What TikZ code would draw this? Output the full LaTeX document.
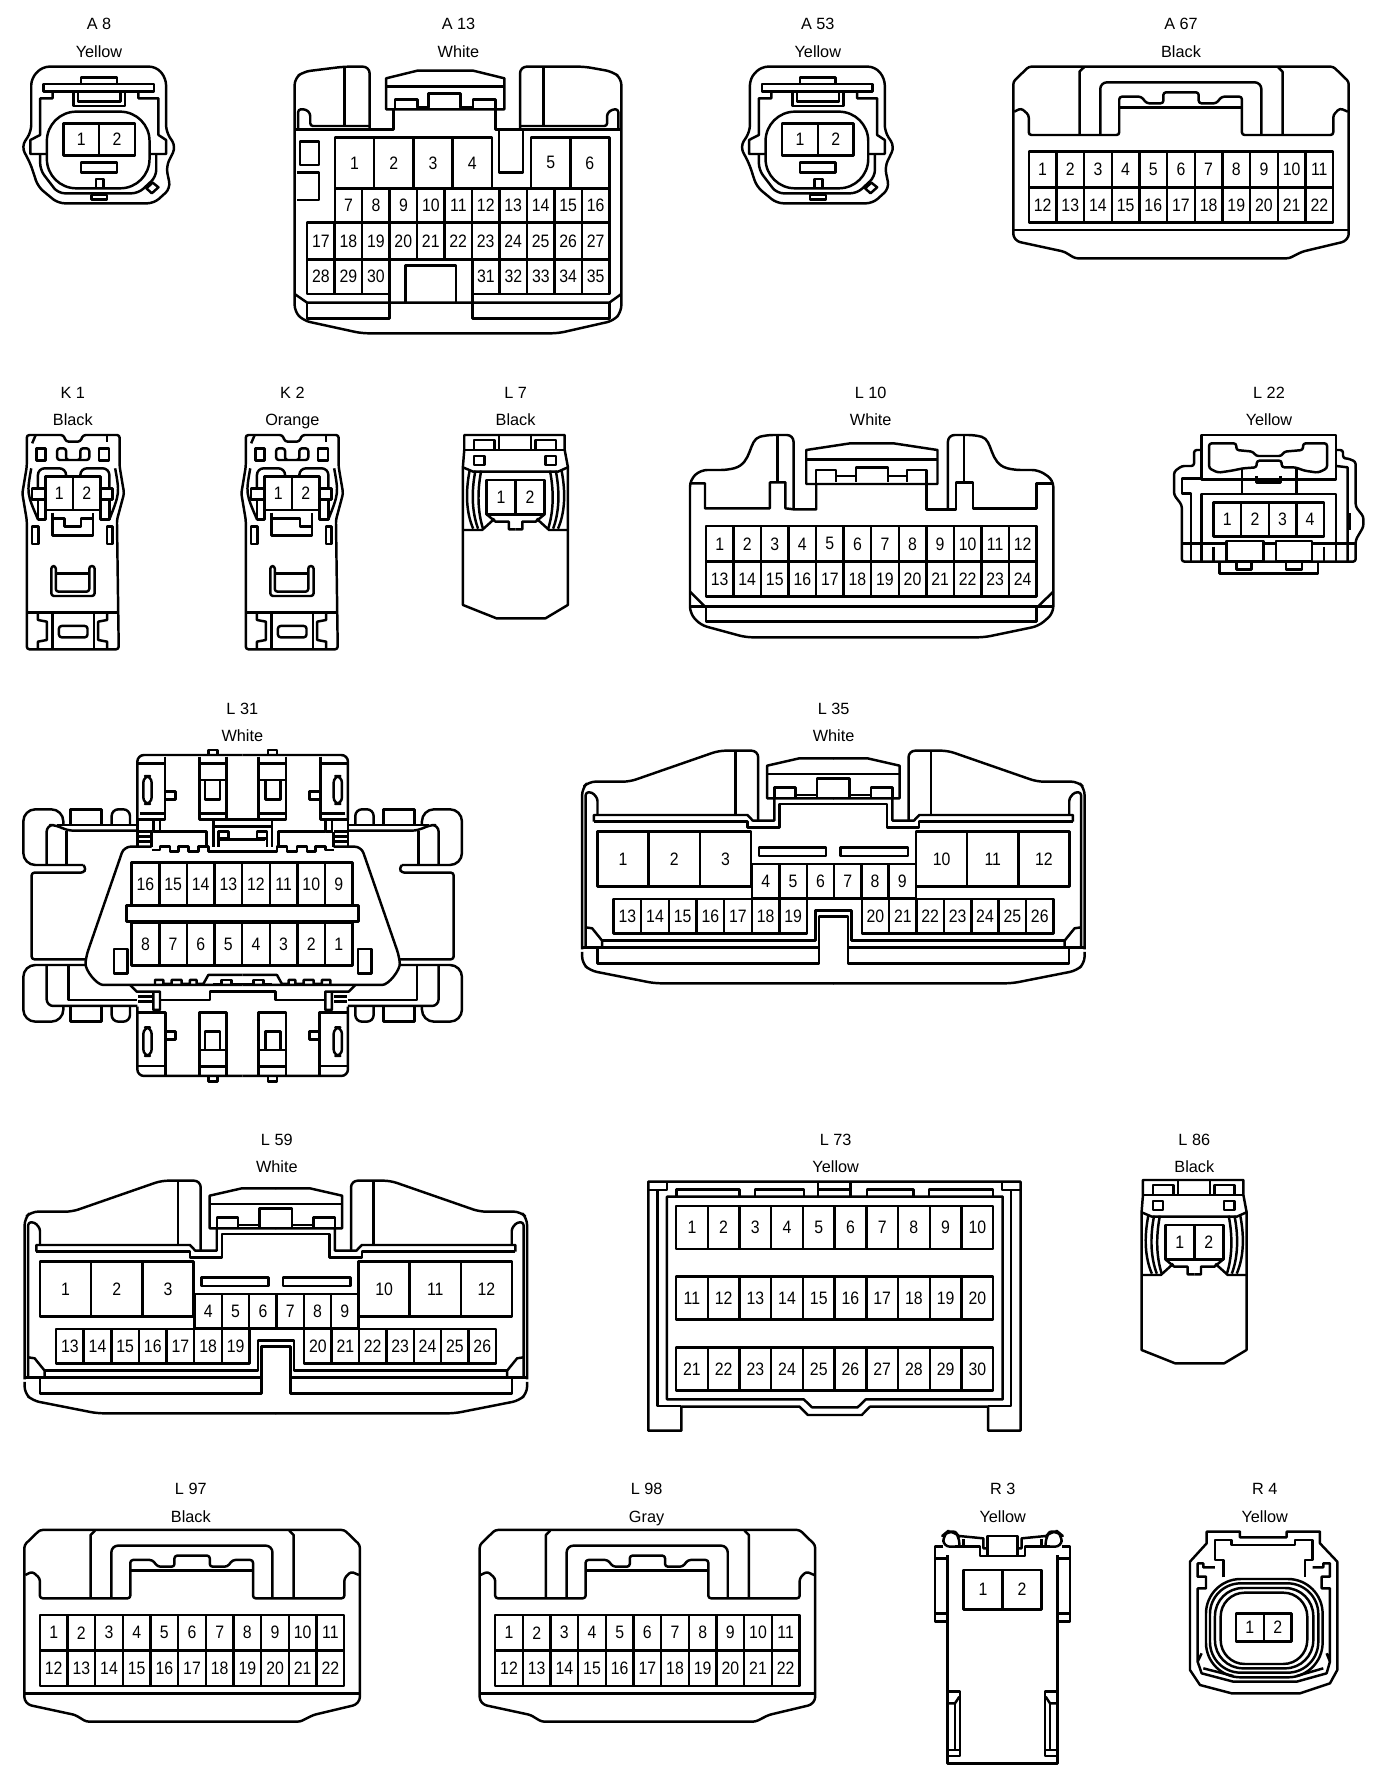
\documentclass[tikz,border=0pt]{standalone}
\usepackage{fontspec}
\setmainfont{Liberation Sans}
\newfontfamily\pinfont[FakeStretch=0.88]{Liberation Sans}
\usepackage{tikz}
\usetikzlibrary{positioning}
\tikzstyle{body} = [draw=black, line width=1.85pt, line join=round]
\tikzstyle{tag} = [font=\fontsize{12.2}{14}\selectfont, inner sep=0pt, text height=8.8pt, text depth=0pt]
\tikzstyle{pinno} = [font=\pinfont\fontsize{13.5}{15}\selectfont, inner sep=0pt]
\tikzstyle{round1} = [body, rounded corners=2pt]
\tikzstyle{round2} = [body, rounded corners=5pt]

% one row of pin cavities: [step] first count x y w h
\newcommand{\pinrow}[6][1]{
	\pgfmathtruncatemacro\lastpin{#3-1}
	\foreach \i in {0,...,\lastpin} {
		\pgfmathtruncatemacro\pinval{#2+#1*\i}
		\draw [body] ({#4+\i*#5},#6) rectangle ++(#5,\pinh);
		\node (p\pinval) [pinno] at ({#4+(\i+0.5)*#5},{#6+\pinh/2}) {\pinval};
	}
}
\newcommand{\pinh}{100}
\newcommand{\pins}[7][1]{\renewcommand{\pinh}{#7}\pinrow[#1]{#2}{#3}{#4}{#6}{#5}}

% round two pin plug
\newcommand{\plugroundtwo}[2]{
	\begin{scope}[shift={(#1,#2)},xscale=0.4464,yscale=0.3333]
		\draw [round2] (95,200) -- (350,200) -- (372,235) -- (372,395) -- (394,440) -- (372,500) -- (382,565) -- (345,610) -- (130,610) -- (85,560) -- (68,490) -- (48,440) -- (70,395) -- (70,235) -- cycle;
		\draw [body] (97,252) rectangle (345,275);
		\draw [body] (182,252) -- (182,232) -- (262,232) -- (262,252);
		\draw [body] (165,275) -- (165,318) -- (280,318) -- (280,275);
		\draw [body] (175,275) -- (175,305) -- (270,305) -- (270,275);
		\draw [body] (118,275) -- (118,295) -- (90,295) -- (90,405) -- (68,420) -- (68,462) -- (105,462);
		\draw [body] (310,275) -- (310,295) -- (355,295) -- (355,405) -- (372,420) -- (372,462) -- (335,462);
		\draw [body, rounded corners=22pt] (105,335) rectangle (335,565);
		\draw [round2] (90,462) -- (90,510) -- (130,580) -- (310,580) -- (350,530) -- (350,462);
		\pins{1}{2}{142}{370}{80}{96}
		\draw [body] (182,487) rectangle (262,518);
		\draw [body] (215,565) -- (215,537) -- (232,537) -- (232,565);
		\draw [body] (205,585) rectangle (240,598);
		\draw [body] (328,565) -- (342,548) -- (355,562) -- (340,580) -- cycle;
	\end{scope}
}

% wide 22 pin plug
\newcommand{\plugwide}[2]{
	\begin{scope}[shift={(#1,#2)},xscale=0.4413,yscale=0.3333]
		\draw [round1] (745,200) -- (1435,200) -- (1470,245) -- (1470,710) -- (1460,725) -- (1365,755) -- (1335,775) -- (850,775) -- (825,755) -- (720,725) -- (710,710) -- (710,245) -- cycle;
		\draw [round1] (712,335) -- (728,325) -- (745,345) -- (745,405) -- (950,405) -- (950,290) -- (1000,290) -- (1012,310) -- (1050,310) -- (1050,277) -- (1130,277) -- (1130,310) -- (1170,310) -- (1182,290) -- (1228,290) -- (1228,405) -- (1435,405) -- (1435,345) -- (1450,325) -- (1468,335);
		\draw [body] (950,322) -- (1228,322);
		\draw [body] (860,405) -- (860,215) -- (870,202);
		\draw [body] (1320,405) -- (1320,215) -- (1310,202);
		\draw [round2] (907,405) -- (907,247) -- (1272,247) -- (1272,405);
		\pins{1}{11}{745}{455}{62.7}{107}
		\pins{12}{11}{745}{562}{62.7}{106}
		\draw [body] (710,690) -- (1470,690);
	\end{scope}
}

% narrow latch plug, last argument is the notch line
\newcommand{\pluglatch}[3]{
	\begin{scope}[shift={(#1,#2)},xscale=0.4464,yscale=0.3333]
		\draw [round1] (60,165) -- (142,165) -- (148,185) -- (180,185) -- (186,165) -- (268,165) -- (268,260) -- (278,340) -- (262,420) -- (266,808) -- (60,808) -- (60,420) -- (50,340) -- (60,260) -- cycle;
		\draw [body] (80,165) -- (72,190);
		\draw [body] (240,165) -- (240,185);
		\draw [body] (82,205) rectangle (102,242);
		\draw [body] (222,205) rectangle (244,242);
		\draw [round1] (128,240) -- (128,205) -- (148,205) -- (148,240) -- (180,240) -- (180,205) -- (200,205) -- (200,240) -- cycle;
		\draw [round2] (85,325) -- (85,265) -- (148,265) -- (148,290);
		\draw [round2] (245,325) -- (245,265) -- (180,265) -- (180,290);
		\draw [body] (70,265) .. controls (60,340) .. (85,418);
		\draw [body] (258,265) .. controls (268,340) .. (245,418);
		\draw [body] (85,358) -- (85,418) -- (102,418) -- (102,390);
		\draw [body] (245,358) -- (245,418) -- (225,418) -- (225,390);
		\pins{1}{2}{102}{290}{61.5}{100}
		\draw [body] (72,325) rectangle (102,358);
		\draw [body] (225,325) rectangle (252,358);
		\draw [body] (118,398) -- (118,466) -- (208,466) -- (208,398);
		\draw [body] #3;
		\draw [body] (72,440) rectangle (86,492);
		\draw [body] (240,440) rectangle (252,492);
		\draw [round1] (115,558) -- (115,648) -- (212,648) -- (212,558) -- (200,558) -- (200,635) -- (125,635) -- (125,558) -- cycle;
		\draw [body] (125,580) -- (200,580);
		\draw [body] (60,698) -- (266,698);
		\draw [body] (118,698) -- (118,808);
		\draw [body] (210,698) -- (210,808);
		\draw [round1] (132,738) rectangle (196,772);
		\draw [body] (85,702) -- (85,720) -- (105,725) -- (105,780) -- (85,785) -- (85,808);
		\draw [body] (240,702) -- (240,720) -- (220,725) -- (220,780) -- (240,785) -- (240,808);
	\end{scope}
}

% short plug with curved side fingers
\newcommand{\plugfinger}[2]{
	\begin{scope}[shift={(#1,#2)},xscale=0.4464,yscale=0.3333]
		\draw [body] (1040,165) -- (1265,165) -- (1265,210) -- (1272,260) -- (1272,675) -- (1222,715) -- (1112,715) -- (1037,675) -- (1037,260) -- (1040,210) -- cycle;
		\draw [body] (1040,210) -- (1265,210);
		\draw [body] (1062,210) -- (1062,180) -- (1108,180) -- (1108,210);
		\draw [body] (1118,210) -- (1118,165);
		\draw [body] (1190,210) -- (1190,165);
		\draw [body] (1200,210) -- (1200,180) -- (1245,180) -- (1245,210);
		\draw [body] (1062,228) rectangle (1085,255);
		\draw [body] (1222,228) rectangle (1245,255);
		\draw [body] (1037,262) -- (1060,275) -- (1250,275) -- (1272,262);
		\foreach \m in {1,-1} {
			\begin{scope}[shift={({1155*(1-\m)},0)},xscale=\m]
				\foreach \k in {0,1,2} {
					\draw [body] ({1052+\k*13},272) .. controls ({1042+\k*13},340) and ({1045+\k*13},400) .. ({1060+\k*11},446);
				}
				\draw [body] (1037,450) -- (1080,450) -- (1108,416);
				\draw [body] (1090,403) -- (1110,425) -- (1140,425) -- (1140,448) -- (1155,448);
			\end{scope}
		}
		\pins{1}{2}{1090}{300}{65}{103}
	\end{scope}
}

% big plug with three large cavities each side
\newcommand{\plugbig}[2]{
	\begin{scope}[shift={(#1,#2)},xscale=0.3571,yscale=0.3333]
		\foreach \m in {1,-1} {
			\begin{scope}[shift={({765.5*(1-\m)},0)},xscale=\m]
				\draw [round2] (62,748) -- (62,265) -- (80,245) -- (195,245) -- (445,152) -- (555,152) -- (555,362);
				\draw [body] (492,152) -- (492,345);
				\draw [body] (95,365) -- (95,345) -- (525,345) -- (540,362) -- (600,362) -- (600,295);
				\draw [body] (95,365) -- (525,365) -- (525,382) -- (615,382) -- (615,312) -- (766,312);
				\draw [round1] (105,345) -- (105,295) -- (90,277) -- (72,277) -- (72,742);
				\draw [body] (766,175) -- (670,175) -- (580,197) -- (580,295) -- (766,295);
				\draw [body] (580,222) -- (766,222);
				\draw [body] (600,295) -- (600,262) -- (660,262) -- (660,295);
				\draw [body] (660,285) -- (720,285);
				\draw [body] (720,295) -- (720,235) -- (766,235);
				\draw [body] (557,442) rectangle (745,468);
				\draw [body] (72,682) -- (90,685) -- (118,722) -- (118,742);
				\draw [body] (118,722) -- (715,722) -- (715,632) -- (766,632);
				\draw [body] (62,742) -- (725,742);
				\draw [body] (105,742) -- (105,790) -- (725,790) -- (725,650) -- (766,650);
				\draw [round2] (62,756) -- (62,790) -- (85,812) -- (265,850) -- (766,850);
			\end{scope}
		}
		\pins{1}{3}{105}{395}{143.3}{165}
		\pins{10}{3}{997}{395}{143.3}{165}
		\pins{4}{6}{538}{492}{76.5}{103}
		\pins{13}{7}{150}{597}{77.4}{103}
		\pins{20}{7}{845}{597}{76.7}{103}
	\end{scope}
}

\begin{document}
\begin{tikzpicture}[x=0.75pt,y=-0.75pt,node distance=20.4pt]
	\useasboundingbox (0,0) rectangle (1392,1784);

	\node (a8) [tag] at (99,24) {A 8};
	\node (a8col) [tag, below of=a8] {Yellow};
	\node (a13) [tag] at (458.5,24) {A 13};
	\node (a13col) [tag, below of=a13] {White};
	\node (a53) [tag] at (817.8,24) {A 53};
	\node (a53col) [tag, below of=a53] {Yellow};
	\node (a67) [tag] at (1181,24) {A 67};
	\node (a67col) [tag, below of=a67] {Black};
	\node (k1) [tag] at (72.8,392.7) {K 1};
	\node (k1col) [tag, below of=k1] {Black};
	\node (k2) [tag] at (292.4,392.7) {K 2};
	\node (k2col) [tag, below of=k2] {Orange};
	\node (l7) [tag] at (515.6,392.7) {L 7};
	\node (l7col) [tag, below of=l7] {Black};
	\node (l10) [tag] at (870.7,392.7) {L 10};
	\node (l10col) [tag, below of=l10] {White};
	\node (l22) [tag] at (1269,392.7) {L 22};
	\node (l22col) [tag, below of=l22] {Yellow};
	\node (l31) [tag] at (242.3,708.3) {L 31};
	\node (l31col) [tag, below of=l31] {White};
	\node (l35) [tag] at (833.6,708.3) {L 35};
	\node (l35col) [tag, below of=l35] {White};
	\node (l59) [tag] at (276.8,1139.3) {L 59};
	\node (l59col) [tag, below of=l59] {White};
	\node (l73) [tag] at (835.7,1139.3) {L 73};
	\node (l73col) [tag, below of=l73] {Yellow};
	\node (l86) [tag] at (1194.3,1139.3) {L 86};
	\node (l86col) [tag, below of=l86] {Black};
	\node (l97) [tag] at (190.8,1489) {L 97};
	\node (l97col) [tag, below of=l97] {Black};
	\node (l98) [tag] at (646.6,1489) {L 98};
	\node (l98col) [tag, below of=l98] {Gray};
	\node (r3) [tag] at (1002.7,1489) {R 3};
	\node (r3col) [tag, below of=r3] {Yellow};
	\node (r4) [tag] at (1264.7,1489) {R 4};
	\node (r4col) [tag, below of=r4] {Yellow};

	\plugroundtwo{0}{0}
	\plugroundtwo{718.7}{0}
	\plugwide{700}{0}
	\plugwide{-288.9}{1463.3}
	\plugwide{166.4}{1463.3}
	\pluglatch{0}{380}{(118,415) -- (145,415) -- (145,440) -- (182,440) -- (182,415) -- (208,415)}
	\pluglatch{219}{380}{(118,415) -- (182,415) -- (182,440) -- (208,440)}
	\plugfinger{0}{380}
	\plugfinger{678.7}{1125}
	\plugbig{560}{700}
	\plugbig{2.5}{1130}

	% A 13
	\begin{scope}[xscale=0.4464,yscale=0.3333]
		\draw [round2] (828,385) -- (828,200) -- (770,200) -- (680,215) -- (660,235) -- (660,935) -- (680,962) -- (810,1000) -- (1250,1000) -- (1375,962) -- (1392,935) -- (1392,235) -- (1372,215) -- (1310,200) -- (1165,200) -- (1165,385);
		\draw [body] (772,200) -- (772,378);
		\draw [body] (1218,200) -- (1218,378);
		\draw [round1] (668,388) -- (668,328) -- (685,328) -- (695,340) -- (695,378) -- (828,378);
		\draw [round1] (1385,388) -- (1385,328) -- (1372,328) -- (1360,340) -- (1360,378) -- (1165,378);
		\draw [body] (660,388) -- (882,388) -- (882,328);
		\draw [body] (1392,388) -- (1110,388) -- (1110,328);
		\draw [body] (865,328) -- (865,235) -- (935,212) -- (1060,212) -- (1130,235) -- (1130,328) -- cycle;
		\draw [body] (865,260) -- (1130,260);
		\draw [body] (885,328) -- (885,298) -- (935,298) -- (935,322) -- (960,322) -- (960,280) -- (1032,280) -- (1032,322) -- (1060,322) -- (1060,298) -- (1110,298) -- (1110,328);
		\draw [body] (1118,388) -- (1118,518) -- (1172,518) -- (1172,388);
		\draw [body] (672,425) rectangle (715,495);
		\draw [body] (665,518) -- (715,518) -- (715,600) -- (665,600);
		\pins{1}{4}{750}{412}{88}{153}
		\pins{5}{2}{1190}{412}{87.5}{153}
		\pins{7}{10}{750}{565}{61.5}{103}
		\pins{17}{11}{688}{668}{61.55}{110}
		\pins{28}{3}{688}{778}{61.55}{104}
		\pins{31}{5}{1058}{778}{61.4}{104}
		\draw [body] (660,882) -- (688,908) -- (1365,908) -- (1392,882);
		\draw [body] (688,908) -- (688,955) -- (873,955) -- (873,882);
		\draw [body] (1058,882) -- (1058,955) -- (1365,955) -- (1365,908);
		\draw [body] (908,908) -- (908,797) -- (1022,797) -- (1022,908);
	\end{scope}

	% L 10
	\begin{scope}[shift={(680,380)},xscale=0.4541,yscale=0.3333]
		\draw [round2] (250,388) -- (250,165) -- (190,165) .. controls (150,180) and (160,250) .. (105,270) -- (45,270) -- (22,300) -- (22,700) -- (45,735) -- (145,772) -- (670,772) -- (790,738) -- (822,700) -- (822,300) -- (790,270) -- (735,270) .. controls (680,250) and (690,180) .. (650,165) -- (590,165) -- (590,388);
		\draw [body] (215,165) -- (215,307);
		\draw [body] (625,165) -- (625,307);
		\draw [body] (22,310) -- (55,310) -- (55,385) -- (198,385) -- (198,307) -- (232,307) -- (232,385) -- (250,388) -- (300,388) -- (300,310);
		\draw [body] (822,310) -- (785,310) -- (785,385) -- (645,385) -- (645,307) -- (608,307) -- (608,388) -- (543,388) -- (543,310);
		\draw [body] (278,312) -- (278,210) -- (375,190) -- (470,190) -- (567,210) -- (567,312) -- cycle;
		\draw [body] (278,238) -- (567,238);
		\draw [body] (300,310) -- (300,270) -- (343,270) -- (343,305);
		\draw [body] (387,305) -- (387,262) -- (458,262) -- (458,305);
		\draw [body] (500,305) -- (500,270) -- (543,270) -- (543,310);
		\draw [body] (343,288) -- (387,288);
		\draw [body] (458,288) -- (500,288);
		\pins{1}{12}{57}{438}{60.67}{107}
		\pins{13}{12}{57}{545}{60.67}{105}
		\draw [body] (22,680) -- (822,680);
		\draw [body] (57,680) -- (57,725) -- (785,725) -- (785,680);
		\draw [body] (22,635) -- (55,680);
		\draw [body] (822,635) -- (788,680);
	\end{scope}

	% L 22
	\begin{scope}[shift={(680,380)},xscale=0.4541,yscale=0.3333]
		\draw [body] (1148,165) rectangle (1445,298);
		\draw [round1] (1165,190) -- (1225,190) -- (1225,210) -- (1262,215) -- (1268,228) -- (1325,228) -- (1330,215) -- (1372,210) -- (1372,190) -- (1425,190) -- (1425,265) -- (1405,278) -- (1375,272) -- (1355,262) -- (1325,262) -- (1325,242) -- (1270,242) -- (1270,262) -- (1240,265) -- (1215,272) -- (1185,278) -- (1165,265) -- cycle;
		\draw [body] (1238,265) -- (1238,342);
		\draw [body] (1358,265) -- (1358,342);
		\draw [body] (1270,288) -- (1270,308) -- (1322,308) -- (1322,288);
		\draw [body] (1148,545) -- (1148,342) -- (1445,342) -- (1445,545);
		\draw [round1] (1148,210) -- (1132,210) -- (1132,258) -- (1105,258) -- (1088,275) -- (1088,345) -- (1105,375) -- (1105,545) -- (1488,545) -- (1488,480) -- (1505,440) -- (1505,410) -- (1488,380) -- (1488,245) -- (1470,235) -- (1460,235) -- (1460,210) -- (1445,210);
		\draw [body] (1148,295) -- (1105,295) -- (1105,340) -- (1125,340) -- (1125,545);
		\draw [body] (1445,258) -- (1470,262) -- (1470,545);
		\draw [body] (1475,400) -- (1475,450);
		\pins{1}{4}{1175}{368}{60.75}{102}
		\draw [body] (1105,490) -- (1203,490);
		\draw [body] (1285,490) -- (1312,490);
		\draw [body] (1392,490) -- (1488,490);
		\draw [body] (1203,483) rectangle (1285,545);
		\draw [body] (1312,483) rectangle (1392,545);
		\draw [body] (1175,500) -- (1175,545);
		\draw [body] (1418,500) -- (1418,545);
		\draw [body] (1188,545) -- (1188,580) -- (1405,580) -- (1405,545);
		\draw [body] (1225,548) -- (1225,568) -- (1258,568) -- (1258,548);
		\draw [body] (1335,548) -- (1335,568) -- (1370,568) -- (1370,548);
	\end{scope}

	% L 31
	\begin{scope}[shift={(0,700)},xscale=0.3333,yscale=0.3333]
		\foreach \m in {1,-1} {
			\begin{scope}[shift={({728*(1-\m)},0)},xscale=\m]
				% upper block
				\draw [round2] (412,360) -- (412,165) -- (728,165);
				\draw [body] (625,165) -- (625,150) -- (652,150) -- (652,165);
				\draw [body] (412,190) -- (495,190);
				\draw [body] (495,170) -- (495,358) -- (412,358);
				\draw [body] (420,340) -- (495,340);
				\draw [round2] (430,228) rectangle (455,312);
				\draw [body] (495,275) -- (527,275) -- (527,298) -- (495,298);
				\draw [body] (598,170) -- (598,358) -- (728,358);
				\draw [body] (680,170) -- (680,358);
				\draw [body] (598,190) -- (680,190);
				\draw [body] (598,240) -- (680,240);
				\draw [body] (598,340) -- (680,340);
				\draw [body] (615,240) -- (615,298) -- (660,298) -- (660,240);
				\draw [body] (640,358) -- (640,440);
				\draw [body] (640,380) -- (728,380);
				\draw [body] (460,358) -- (460,395) -- (480,395) -- (480,358);
				\draw [body] (480,395) -- (620,395) -- (620,440);
				\draw [body] (655,440) -- (655,395) -- (685,395) -- (685,415) -- (655,415);
				\draw [body] (660,418) -- (728,418);
				\draw [body] (455,395) -- (455,440);
				\draw [body] (415,395) -- (455,395);
				\draw [body] (415,410) -- (455,410);
				\draw [body] (415,425) -- (455,425);
				\draw [body] (412,360) -- (412,438);
				\draw [body] (455,450) -- (480,450) -- (480,440) -- (510,440) -- (510,455) -- (535,455) -- (535,440) -- (565,440) -- (565,455) -- (595,455) -- (595,440) -- (625,440) -- (625,455) -- (655,455) -- (728,455);
				% main shell
				\draw [round2] (455,440) -- (372,440) -- (258,770) .. controls (255,810) and (290,855) .. (330,855) -- (728,855);
				\draw [body] (342,747) rectangle (382,820);
				\draw [body] (465,855) -- (465,840) -- (490,840) -- (490,852) -- (515,852) -- (515,840) -- (545,840) -- (545,852) -- (570,852) -- (570,840) -- (590,840) -- (590,852) -- (610,852) -- (625,825) -- (728,825);
				\draw [body] (640,852) -- (665,852) -- (665,840) -- (695,840) -- (695,852) -- (728,852);
				% lower block
				\draw [body] (390,855) -- (410,875) -- (460,875) -- (460,930) -- (480,930) -- (480,875) -- (460,875);
				\draw [body] (415,890) -- (455,890);
				\draw [body] (415,905) -- (455,905);
				\draw [body] (480,900) -- (630,900) -- (630,875) -- (728,875);
				\draw [round2] (412,920) -- (412,1128) -- (728,1128);
				\draw [body] (412,938) -- (497,938) -- (497,1128);
				\draw [body] (412,1098) -- (497,1098);
				\draw [round2] (430,982) rectangle (455,1068);
				\draw [body] (497,995) -- (527,995) -- (527,1018) -- (497,1018);
				\draw [body] (598,1128) -- (598,938) -- (680,938) -- (680,1128);
				\draw [body] (598,1050) -- (680,1050);
				\draw [body] (598,1100) -- (680,1100);
				\draw [body] (615,1050) -- (615,995) -- (660,995) -- (660,1050);
				\draw [body] (625,1128) -- (625,1145) -- (652,1145) -- (652,1128);
				% side wings
				\draw [body, rounded corners=9pt] (190,375) -- (190,328) -- (70,328) -- (70,495) -- (250,495);
				\draw [body] (212,375) -- (212,328) -- (305,328) -- (305,375);
				\draw [round2] (335,375) -- (335,328) -- (390,328) -- (390,375);
				\draw [round2] (140,495) -- (140,375) -- (170,375) -- (200,392) -- (412,392);
				\draw [body] (170,375) -- (412,375);
				\draw [body] (200,392) -- (200,495);
				\draw [round1] (250,495) -- (258,507) -- (250,518) -- (95,518) -- (95,778) -- (258,778);
				\draw [body, rounded corners=9pt] (258,795) -- (70,795) -- (70,965) -- (190,965) -- (190,918);
				\draw [body] (212,918) -- (212,965) -- (305,965) -- (305,918);
				\draw [round2] (335,918) -- (335,965) -- (390,965) -- (390,918);
				\draw [round2] (140,795) -- (140,918) -- (412,918);
				\draw [body] (205,795) -- (205,900) -- (412,900);
			\end{scope}
		}
		\pins[-1]{16}{8}{395}{488}{82.9}{129}
		\draw [body] (380,617) rectangle (1075,665);
		\pins[-1]{8}{8}{395}{667}{82.9}{130}
	\end{scope}

	% L 73
	\begin{scope}[shift={(640,1130)},xscale=0.4145,yscale=0.3333]
		\draw [body] (20,155) -- (918,155) -- (918,902) -- (840,902) -- (840,830) -- (555,830) -- (535,855) -- (405,855) -- (385,830) -- (100,830) -- (100,902) -- (20,902) -- cycle;
		\draw [body] (42,180) -- (42,828) -- (100,828);
		\draw [body] (895,180) -- (895,828) -- (840,828);
		\draw [body] (20,180) -- (65,180) -- (65,160);
		\draw [body] (873,160) -- (873,180) -- (918,180);
		\draw [body] (65,200) -- (875,200) -- (875,808) -- (545,808) -- (525,832) -- (415,832) -- (395,808) -- (65,808) -- cycle;
		\draw [body] (88,200) -- (88,178) -- (240,178) -- (240,200);
		\draw [body] (277,200) -- (277,178) -- (395,178) -- (395,200);
		\draw [body] (430,155) -- (430,200);
		\draw [body] (508,155) -- (508,200);
		\draw [body] (430,178) -- (508,178);
		\draw [body] (547,200) -- (547,178) -- (660,178) -- (660,200);
		\draw [body] (697,200) -- (697,178) -- (852,178) -- (852,200);
		\pins{1}{10}{87}{228}{76.5}{129}
		\pins{11}{10}{87}{440}{76.5}{128}
		\pins{21}{10}{87}{652}{76.5}{130}
	\end{scope}

	% R 3
	\begin{scope}[shift={(900,1480)},xscale=0.3333,yscale=0.3333]
		\foreach \m in {1,-1} {
			\begin{scope}[shift={({307.5*(1-\m)},0)},xscale=\m]
				\draw [body] (142,225) -- (142,850) -- (308,850);
				\draw [round2] (165,200) -- (130,200) -- (130,165) -- (142,155) -- (165,155) -- (178,170) -- (178,200);
				\draw [body] (130,200) -- (105,200) -- (105,425) -- (142,425);
				\draw [body] (105,235) -- (142,235);
				\draw [body] (105,400) -- (142,400);
				\draw [body] (165,200) -- (240,200) -- (240,228) -- (308,228);
				\draw [body] (262,225) -- (262,168) -- (308,168);
				\draw [body] (178,168) -- (250,175) -- (250,205) -- (262,205);
				\draw [body] (190,178) -- (190,200);
				\draw [body] (145,635) -- (180,635) -- (180,828) -- (145,828);
				\draw [body] (145,810) -- (180,810);
				\draw [body] (145,670) -- (165,670) -- (178,650);
				\draw [body] (165,670) -- (165,810);
			\end{scope}
		}
		\pins{1}{2}{190}{270}{117.5}{118}
	\end{scope}

	% R 4
	\begin{scope}[shift={(900,1480)},xscale=0.3333,yscale=0.3333]
		\draw [body] (920,155) -- (1020,155) -- (1020,172) -- (1160,172) -- (1160,155) -- (1260,155) -- (1260,190) -- (1312,245) -- (1312,570) -- (1290,610) -- (1200,640) -- (995,640) -- (900,615) -- (870,570) -- (870,245) -- (920,190) -- cycle;
		\draw [body] (970,292) -- (970,240) -- (945,240) -- (945,180) -- (995,180) -- (995,195) -- (1185,195) -- (1185,180) -- (1238,180) -- (1238,240) -- (1215,240) -- (1215,292);
		\draw [body] (945,262) -- (910,262) -- (910,250) -- (893,250) -- (893,290) -- (918,290) -- (918,325) -- (893,325) -- (893,545) -- (905,520);
		\draw [body] (1238,262) -- (1270,262) -- (1270,250) -- (1290,250) -- (1290,290) -- (1265,290) -- (1265,325) -- (1290,325) -- (1290,545) -- (1280,520);
		\draw [body] (893,545) -- (905,580) -- (1000,605) -- (1190,605) -- (1280,580) -- (1290,545);
		\draw [body] (910,565) -- (1000,588);
		\draw [body] (1270,565) -- (1190,588);
		\draw [body, rounded corners=26pt] (918,297) rectangle (1268,592);
		\draw [body, rounded corners=23pt] (930,310) rectangle (1255,578);
		\draw [body, rounded corners=21pt] (945,324) rectangle (1240,565);
		\draw [body, rounded corners=18pt] (962,338) rectangle (1222,552);
		\pins{1}{2}{1008}{400}{83.5}{85}
	\end{scope}
\end{tikzpicture}
\end{document}
